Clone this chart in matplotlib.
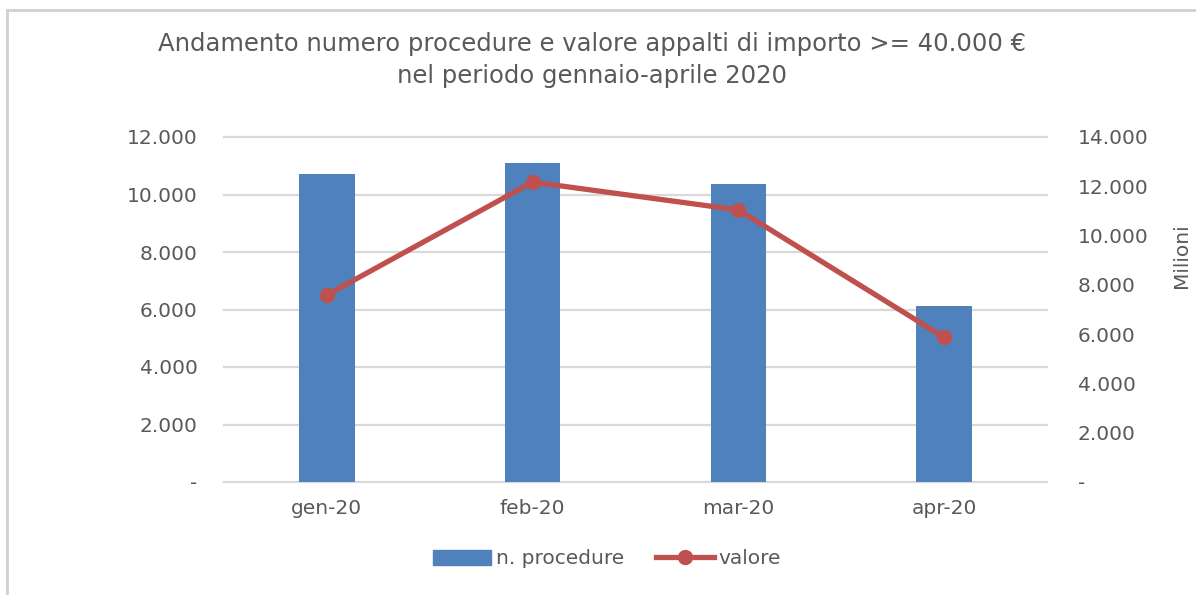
import matplotlib
matplotlib.use("Agg")
import matplotlib.pyplot as plt
from matplotlib.ticker import FuncFormatter, MultipleLocator
from matplotlib.lines import Line2D

# dati
mesi = ["gen-20", "feb-20", "mar-20", "apr-20"]
n_procedure = [10720, 11100, 10370, 6110]
valore_milioni = [7590, 12170, 11040, 5870]

titolo = "Andamento numero procedure e valore appalti di importo >= 40.000 €\nnel periodo gennaio-aprile 2020"

BLU = "#4F81BD"
ROSSO = "#C0504D"
GRIGIO = "#595959"
GRIGLIA = "#D9D9D9"

plt.rcParams['font.family'] = ['DejaVu Sans']


def migliaia(v, pos):
    if v == 0:
        return "-"
    return f"{v:,.0f}".replace(",", ".")


W, H = 1196, 595
fig = plt.figure(figsize=(W / 100, H / 100), dpi=100)

# area del grafico
ax = fig.add_axes([224 / W, 1 - 482 / H, (1047 - 224) / W, (482 - 137) / H])
ax2 = ax.twinx()

x = range(len(mesi))
ax.bar(x, n_procedure, width=0.27, color=BLU, zorder=2, label="n. procedure")
ax2.plot(x, valore_milioni, color=ROSSO, lw=3.8, marker="o", ms=10,
         zorder=3, label="valore", solid_capstyle="round")

ax.set_xlim(-0.5, 3.5)
ax.set_ylim(0, 12000)
ax2.set_ylim(0, 14000)
ax.yaxis.set_major_locator(MultipleLocator(2000))
ax2.yaxis.set_major_locator(MultipleLocator(2000))
ax.yaxis.set_major_formatter(FuncFormatter(migliaia))
ax2.yaxis.set_major_formatter(FuncFormatter(migliaia))

ax.set_xticks(list(x))
ax.set_xticklabels(mesi)
ax.grid(axis="y", color=GRIGLIA, lw=1.6, zorder=0)
ax.set_axisbelow(True)
for g in ax.get_ygridlines():
    g.set_clip_on(False)

for a in (ax, ax2):
    for s in a.spines.values():
        s.set_visible(False)
ax.tick_params(axis="y", length=0, pad=19, labelsize=14.5, labelcolor=GRIGIO)
ax.tick_params(axis="x", length=0, pad=12, labelsize=14.5, labelcolor=GRIGIO)
ax2.tick_params(axis="y", length=0, pad=22, labelsize=14.5, labelcolor=GRIGIO)

ax2.set_ylabel("Milioni", fontsize=14.5, color=GRIGIO)
ax2.yaxis.set_label_coords(1.152, 0.655)

fig.text(592 / W, 1 - 60 / H, titolo, ha="center", va="center",
         fontsize=17.5, color=GRIGIO, linespacing=1.4)

# legenda
h_bar = plt.Rectangle((0, 0), 1, 1, color=BLU)
h_lin = Line2D([], [], color=ROSSO, lw=3.8, marker="o", ms=10)
fig.legend([h_bar, h_lin], ["n. procedure", "valore"], loc="center",
           bbox_to_anchor=(607 / W, 1 - 559 / H), ncol=2, frameon=False,
           fontsize=14.5, labelcolor=GRIGIO, handlelength=2.9,
           handletextpad=0.2, columnspacing=1.6)

# cornice del grafico
fig.add_artist(Line2D([6.5 / W, 6.5 / W], [0, 1 - 10 / H],
                      transform=fig.transFigure, color="#D0D0D0", lw=2))
fig.add_artist(Line2D([6.5 / W, 1], [1 - 10 / H, 1 - 10 / H],
                      transform=fig.transFigure, color="#D0D0D0", lw=2))

fig.savefig("out.png", dpi=100)
